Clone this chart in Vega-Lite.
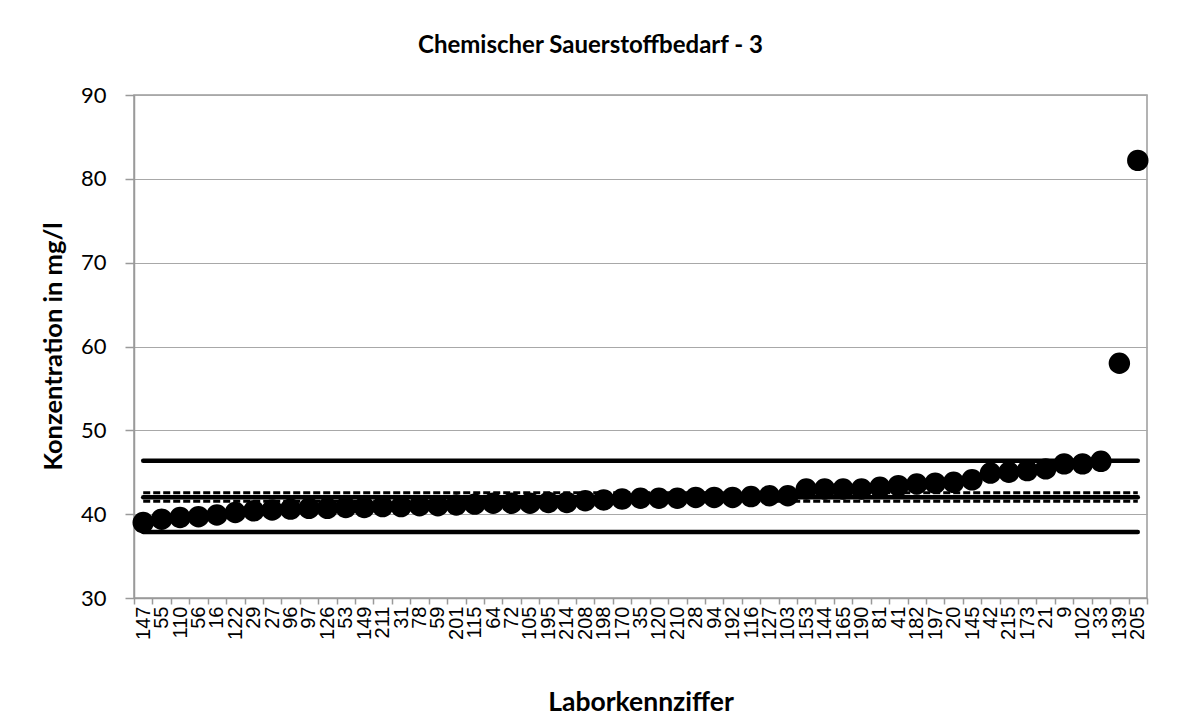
{
  "$schema": "https://vega.github.io/schema/vega-lite/v6.json",
  "autosize": {"type": "none"},
  "width": 1013,
  "height": 503,
  "padding": {"left": 134, "top": 95, "right": 31, "bottom": 126},
  "background": "white",
  "title": {
    "text": "Chemischer Sauerstoffbedarf - 3",
    "font": "Lato",
    "fontSize": 24,
    "fontWeight": "bold",
    "color": "black",
    "anchor": "middle",
    "frame": "group",
    "dx": -50,
    "offset": 26
  },
  "config": {
    "view": {"stroke": "#9a9a9a", "strokeWidth": 1.5},
    "axis": {
      "domainColor": "#9a9a9a",
      "domainWidth": 1.5,
      "tickColor": "#9a9a9a",
      "tickWidth": 1.5,
      "gridColor": "#a8a8a8",
      "gridWidth": 1.2,
      "labelColor": "black",
      "titleColor": "black"
    }
  },
  "datasets": {
    "werte": [
      {"lab": "147", "wert": 39.0},
      {"lab": "55", "wert": 39.4},
      {"lab": "110", "wert": 39.6},
      {"lab": "56", "wert": 39.7},
      {"lab": "16", "wert": 39.9},
      {"lab": "122", "wert": 40.2},
      {"lab": "29", "wert": 40.4},
      {"lab": "27", "wert": 40.5},
      {"lab": "96", "wert": 40.6},
      {"lab": "97", "wert": 40.7},
      {"lab": "126", "wert": 40.7},
      {"lab": "53", "wert": 40.8},
      {"lab": "149", "wert": 40.8},
      {"lab": "211", "wert": 40.9},
      {"lab": "31", "wert": 40.9},
      {"lab": "78", "wert": 41.0},
      {"lab": "59", "wert": 41.0},
      {"lab": "201", "wert": 41.1},
      {"lab": "115", "wert": 41.2},
      {"lab": "64", "wert": 41.3},
      {"lab": "72", "wert": 41.3},
      {"lab": "105", "wert": 41.3},
      {"lab": "195", "wert": 41.4},
      {"lab": "214", "wert": 41.4},
      {"lab": "208", "wert": 41.6},
      {"lab": "198", "wert": 41.7},
      {"lab": "170", "wert": 41.8},
      {"lab": "35", "wert": 41.9},
      {"lab": "120", "wert": 41.9},
      {"lab": "210", "wert": 41.9},
      {"lab": "28", "wert": 42.0},
      {"lab": "94", "wert": 42.0},
      {"lab": "192", "wert": 42.0},
      {"lab": "116", "wert": 42.1},
      {"lab": "127", "wert": 42.2},
      {"lab": "103", "wert": 42.2},
      {"lab": "153", "wert": 43.0},
      {"lab": "144", "wert": 43.0},
      {"lab": "165", "wert": 43.0},
      {"lab": "190", "wert": 43.0},
      {"lab": "81", "wert": 43.2},
      {"lab": "41", "wert": 43.4},
      {"lab": "182", "wert": 43.6},
      {"lab": "197", "wert": 43.7},
      {"lab": "20", "wert": 43.8},
      {"lab": "145", "wert": 44.1},
      {"lab": "42", "wert": 44.9},
      {"lab": "215", "wert": 45.0},
      {"lab": "173", "wert": 45.2},
      {"lab": "21", "wert": 45.4},
      {"lab": "9", "wert": 46.0},
      {"lab": "102", "wert": 46.0},
      {"lab": "33", "wert": 46.3},
      {"lab": "139", "wert": 58.0},
      {"lab": "205", "wert": 82.2}
    ],
    "grenzen_solid": [
      {"von": "147", "bis": "205", "wert": 46.38, "art": "Toleranz oben"},
      {"von": "147", "bis": "205", "wert": 37.87, "art": "Toleranz unten"},
      {"von": "147", "bis": "205", "wert": 42.01, "art": "Sollwert"}
    ],
    "grenzen_dash": [
      {"von": "147", "bis": "205", "wert": 42.56, "art": "Unsicherheit oben"},
      {"von": "147", "bis": "205", "wert": 41.54, "art": "Unsicherheit unten"}
    ]
  },
  "layer": [
    {
      "data": {"name": "werte"},
      "mark": {"type": "point", "filled": true, "color": "black", "opacity": 1, "size": 460, "shape": "circle", "zindex": 2},
      "encoding": {
        "x": {
          "field": "lab",
          "type": "ordinal",
          "sort": null,
          "scale": {"type": "band", "paddingInner": 0, "paddingOuter": 0},
          "axis": {
            "title": "Laborkennziffer",
            "titleFont": "Lato",
            "titleFontSize": 26.5,
            "titleFontWeight": "bold",
            "titleBaseline": "middle",
            "titleY": 104,
            "labelAngle": -90,
            "labelAlign": "right",
            "labelBaseline": "middle",
            "labelFont": "Liberation Sans",
            "labelFontSize": 20,
            "labelPadding": 2,
            "tickBand": "extent",
            "tickSize": 6,
            "grid": false
          }
        },
        "y": {
          "field": "wert",
          "type": "quantitative",
          "scale": {"domain": [30, 90], "nice": false, "zero": false},
          "axis": {
            "title": "Konzentration in mg/l",
            "titleFont": "Lato",
            "titleFontSize": 25.5,
            "titleFontWeight": "bold",
            "titleBaseline": "middle",
            "titleAlign": "center",
            "titleX": -81,
            "titleY": 251,
            "values": [30, 40, 50, 60, 70, 80, 90],
            "labelFont": "Lato",
            "labelFontSize": 22,
            "labelPadding": 19,
            "tickSize": 9,
            "grid": true
          }
        }
      }
    },
    {
      "data": {"name": "grenzen_solid"},
      "mark": {"type": "rule", "color": "black", "strokeWidth": 4.5, "strokeCap": "round"},
      "encoding": {
        "x": {"field": "von", "type": "ordinal", "sort": null},
        "x2": {"field": "bis"},
        "y": {"field": "wert", "type": "quantitative"}
      }
    },
    {
      "data": {"name": "grenzen_dash"},
      "mark": {"type": "rule", "color": "black", "strokeWidth": 3, "strokeDash": [7, 3]},
      "encoding": {
        "x": {"field": "von", "type": "ordinal", "sort": null},
        "x2": {"field": "bis"},
        "y": {"field": "wert", "type": "quantitative"}
      }
    }
  ]
}
